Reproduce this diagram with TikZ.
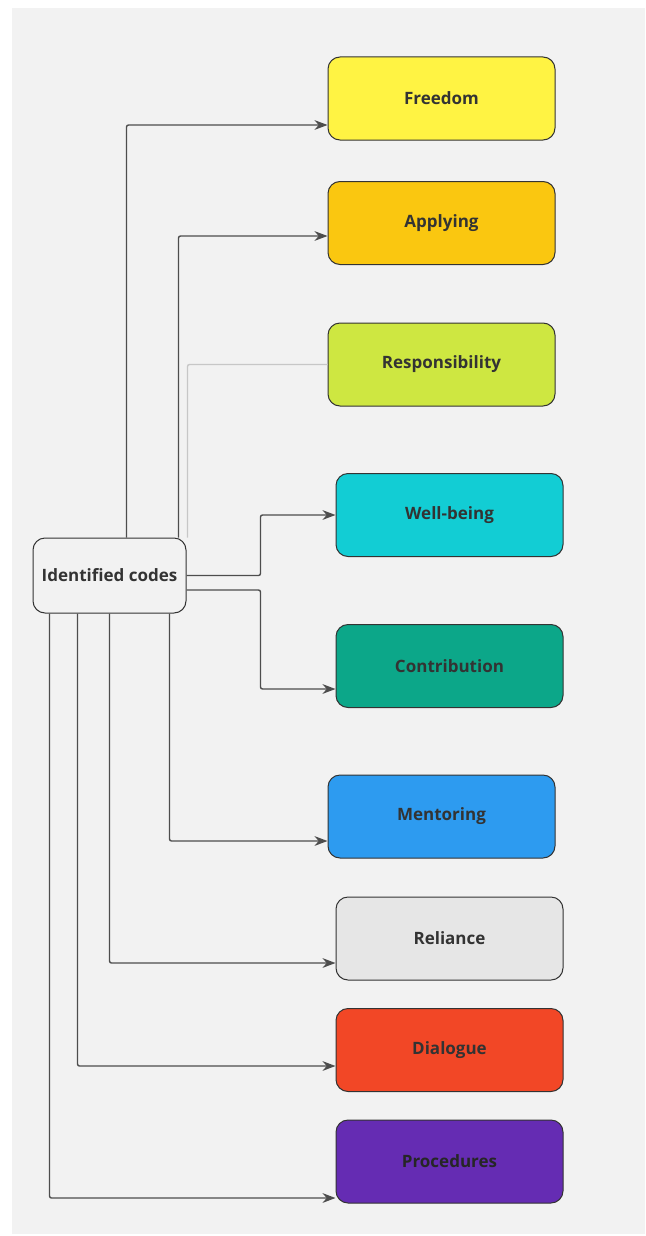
\documentclass[tikz,border=0pt]{standalone}
\usepackage{fontspec}
\setmainfont{Open Sans}
\usepackage{tikz}
\usetikzlibrary{arrows.meta, calc}
\definecolor{bggray}{HTML}{F2F2F2}
\definecolor{linegray}{HTML}{4D4D4D}
\definecolor{textgray}{HTML}{333333}
\definecolor{cfreedom}{HTML}{FFF343}
\definecolor{capplying}{HTML}{FAC710}
\definecolor{cresp}{HTML}{CEE741}
\definecolor{cwell}{HTML}{12CDD4}
\definecolor{ccontrib}{HTML}{0CA789}
\definecolor{cmentor}{HTML}{2D9BF0}
\definecolor{creliance}{HTML}{E6E6E6}
\definecolor{cdialogue}{HTML}{F24726}
\definecolor{cproc}{HTML}{652CB3}
\tikzset{>={Stealth[scale=1.4]}}
\tikzset{
  codebox/.style={draw=textgray, line width=1pt, rounded corners=12pt,
    minimum width=227pt, minimum height=83pt, inner sep=0pt,
    text=textgray, font=\fontsize{17}{20}\selectfont\bfseries},
  link/.style={->, draw=linegray, line width=1.4pt, rounded corners=2pt},
}

\begin{document}
\begin{tikzpicture}[x=1pt, y=-1pt]
      \useasboundingbox (0, 0) rectangle (645, 1236);
      \fill[white] (0, 0) rectangle (645, 1236);
      \fill[bggray] (12, 8) rectangle (645, 1234);
      % codes
      \node[codebox, fill=cfreedom] (fr) at (441.5, 98.5) {Freedom};
      \node[codebox, fill=capplying] (ap) at (441.5, 223) {Applying};
      \node[codebox, fill=cresp] (re) at (441.5, 364.5) {Responsibility};
      \node[codebox, fill=cwell] (wb) at (449.5, 515) {Well-being};
      \node[codebox, fill=ccontrib] (co) at (449.5, 666) {Contribution};
      \node[codebox, fill=cmentor] (me) at (441.5, 816.5) {Mentoring};
      \node[codebox, fill=creliance] (rl) at (449.5, 938.5) {Reliance};
      \node[codebox, fill=cdialogue] (di) at (449.5, 1050) {Dialogue};
      \node[codebox, fill=cproc, text=black!85] (pr) at (449.5, 1161.5) {Procedures};
      \node[codebox, fill=bggray, minimum width=153pt, minimum height=75pt] (id) at (109.5, 575.5) {Identified codes};
      % links
      \draw[link] ([xshift=94pt]id.north west) |- ([yshift=-26.5pt]fr.west);
      \draw[link] ([xshift=146pt]id.north west) |- ([yshift=-13pt]ap.west);
      \draw[draw=black!22, line width=1.4pt, rounded corners=2pt] (re.west) -| ([xshift=1pt]id.north east);
      \draw[link] (id.east) -- ++(74, 0) |- (wb.west);
      \draw[link] ([yshift=-14.5pt]id.east) -- ++(74, 0) |- ([yshift=-23pt]co.west);
      \draw[link] ([xshift=137pt]id.south west) |- ([yshift=-24.5pt]me.west);
      \draw[link] ([xshift=77pt]id.south west) |- ([yshift=-24.5pt]rl.west);
      \draw[link] ([xshift=45pt]id.south west) |- ([yshift=-16pt]di.west);
      \draw[link] ([xshift=17pt]id.south west) |- ([yshift=-36.5pt]pr.west);
    \end{tikzpicture}
\end{document}
